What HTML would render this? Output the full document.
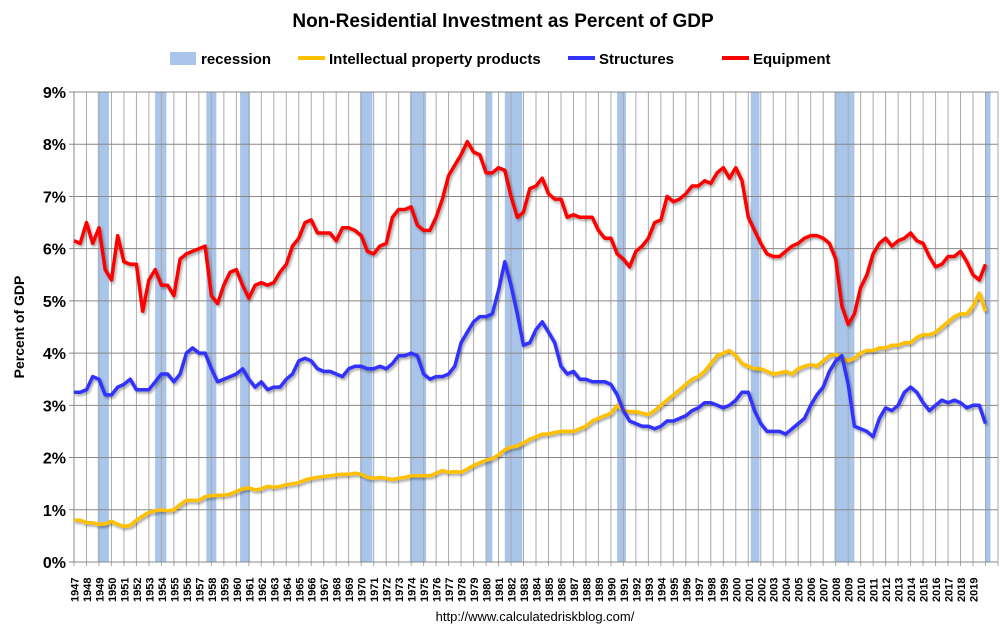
<!DOCTYPE html>
<html><head><meta charset="utf-8"><style>
body{margin:0;background:#fff;}
svg{font-family:"Liberation Sans",Arial,sans-serif;display:block}
</style></head><body>
<svg id="chart" width="1007" height="636" viewBox="0 0 1007 636">
<defs><filter id="sh" x="-5%" y="-5%" width="110%" height="110%"><feDropShadow dx="1.5" dy="2" stdDeviation="1.2" flood-color="#000" flood-opacity="0.35"/></filter></defs>
<text x="503" y="27" text-anchor="middle" font-size="19" font-weight="bold" fill="#000">Non-Residential Investment as Percent of GDP</text>
<g font-size="15" font-weight="bold">
<g><rect x="170" y="52" width="26" height="13" fill="#a9c5ea"/><text x="201" y="64">recession</text></g>
<g><line x1="298" y1="58" x2="325" y2="58" stroke="#ffc000" stroke-width="4"/><text x="329" y="64">Intellectual property products</text></g>
<g><line x1="568" y1="58" x2="595" y2="58" stroke="#3333ff" stroke-width="4"/><text x="599" y="64">Structures</text></g>
<g><line x1="722" y1="58" x2="749" y2="58" stroke="#ff0000" stroke-width="4"/><text x="753" y="64">Equipment</text></g>
</g>
<text transform="translate(24,327) rotate(-90)" text-anchor="middle" font-size="14" font-weight="bold">Percent of GDP</text>
<text x="535" y="621" text-anchor="middle" font-size="13">http://www.calculatedriskblog.com/</text>
<g id="plot"></g>
</svg>
<script>
const yTicks=[0,1,2,3,4,5,6,7,8,9];
const recStart=[1948.9,1953.5,1957.6,1960.3,1969.9,1973.9,1980.0,1981.5,1990.5,2001.2,2007.9,2020.0];
const recEnd=[1949.8,1954.4,1958.4,1961.1,1970.9,1975.2,1980.5,1982.9,1991.2,2001.9,2009.5,2020.4];
const startYear=1947, endYear=2021;
const equipment=[6.15,6.1,6.5,6.1,6.4,5.6,5.4,6.25,5.75,5.7,5.7,4.8,5.4,5.6,5.3,5.3,5.1,5.8,5.9,5.95,6.0,6.05,5.1,4.95,5.3,5.55,5.6,5.3,5.05,5.3,5.35,5.3,5.35,5.55,5.7,6.05,6.2,6.5,6.55,6.3,6.3,6.3,6.15,6.4,6.4,6.35,6.25,5.95,5.9,6.05,6.1,6.6,6.75,6.75,6.8,6.45,6.35,6.35,6.6,6.95,7.4,7.6,7.8,8.05,7.85,7.8,7.45,7.45,7.55,7.5,7.0,6.6,6.7,7.15,7.2,7.35,7.05,6.95,6.95,6.6,6.65,6.6,6.6,6.6,6.35,6.2,6.2,5.9,5.8,5.65,5.95,6.05,6.2,6.5,6.55,7.0,6.9,6.95,7.05,7.2,7.2,7.3,7.25,7.45,7.55,7.35,7.55,7.3,6.6,6.35,6.1,5.9,5.85,5.85,5.95,6.05,6.1,6.2,6.25,6.25,6.2,6.1,5.8,4.9,4.55,4.75,5.25,5.5,5.9,6.1,6.2,6.05,6.15,6.2,6.3,6.15,6.1,5.85,5.65,5.7,5.85,5.85,5.95,5.75,5.5,5.4,5.7];
const structures=[3.25,3.25,3.3,3.55,3.5,3.2,3.2,3.35,3.4,3.5,3.3,3.3,3.3,3.45,3.6,3.6,3.45,3.6,4.0,4.1,4.0,4.0,3.7,3.45,3.5,3.55,3.6,3.7,3.5,3.35,3.45,3.3,3.35,3.35,3.5,3.6,3.85,3.9,3.85,3.7,3.65,3.65,3.6,3.55,3.7,3.75,3.75,3.7,3.7,3.75,3.7,3.8,3.95,3.95,4.0,3.95,3.6,3.5,3.55,3.55,3.6,3.75,4.2,4.4,4.6,4.7,4.7,4.75,5.2,5.75,5.3,4.75,4.15,4.2,4.45,4.6,4.4,4.2,3.75,3.6,3.65,3.5,3.5,3.45,3.45,3.45,3.4,3.2,2.9,2.7,2.65,2.6,2.6,2.55,2.6,2.7,2.7,2.75,2.8,2.9,2.95,3.05,3.05,3.0,2.95,3.0,3.1,3.25,3.25,2.9,2.65,2.5,2.5,2.5,2.45,2.55,2.65,2.75,3.0,3.2,3.35,3.65,3.85,3.95,3.4,2.6,2.55,2.5,2.4,2.75,2.95,2.9,3.0,3.25,3.35,3.25,3.05,2.9,3.0,3.1,3.05,3.1,3.05,2.95,3.0,3.0,2.65];
const ipp=[0.8,0.8,0.75,0.75,0.72,0.73,0.78,0.72,0.68,0.7,0.8,0.88,0.95,0.98,1.0,0.98,1.0,1.1,1.18,1.18,1.18,1.25,1.27,1.28,1.28,1.3,1.35,1.4,1.42,1.38,1.4,1.45,1.43,1.45,1.48,1.5,1.52,1.57,1.6,1.62,1.64,1.65,1.67,1.68,1.68,1.7,1.68,1.62,1.6,1.62,1.6,1.58,1.6,1.62,1.65,1.65,1.65,1.65,1.7,1.75,1.72,1.73,1.72,1.78,1.85,1.9,1.95,1.98,2.05,2.15,2.2,2.22,2.28,2.35,2.4,2.45,2.45,2.48,2.5,2.5,2.5,2.55,2.6,2.7,2.75,2.8,2.85,3.0,2.9,2.88,2.88,2.85,2.82,2.9,3.0,3.1,3.2,3.3,3.4,3.5,3.55,3.65,3.8,3.95,4.0,4.05,3.95,3.8,3.75,3.7,3.7,3.65,3.6,3.62,3.65,3.6,3.7,3.75,3.78,3.75,3.85,3.95,3.98,3.9,3.85,3.9,4.0,4.05,4.05,4.1,4.1,4.15,4.15,4.2,4.2,4.3,4.35,4.35,4.4,4.5,4.6,4.7,4.75,4.75,4.9,5.15,4.8];

const L=74,R=998,T=92,B=562,NS="http://www.w3.org/2000/svg";
const x=t=>L+(t-startYear)/(endYear-startYear)*(R-L);
const y=v=>B-v/9*(B-T);
const g=document.getElementById('plot');
function mk(tag,a,parent){const e=document.createElementNS(NS,tag);for(const k in a)e.setAttribute(k,a[k]);(parent||g).appendChild(e);return e;}
for(let i=0;i<recStart.length;i++){
  const r=mk('rect',{x:x(recStart[i]),y:T,width:x(recEnd[i])-x(recStart[i]),height:B-T,fill:'#a9c5ea'});
  
  
}
for(let yr=startYear;yr<=endYear;yr++){
  const l=mk('line',{x1:x(yr),x2:x(yr),y1:T,y2:B+4,stroke:'#aaa','stroke-width':1});
  
  
  if(yr<endYear-1){
    const tx=mk('text',{transform:`translate(${x(yr)+4.5},${B+40}) rotate(-90)`,'font-size':11,'font-weight':'bold'});
    tx.textContent=yr;
    
    
  }
}
yTicks.forEach(v=>{
  const l=mk('line',{x1:L-5,x2:R,y1:y(v),y2:y(v),stroke:'#888','stroke-width':1});
  
  
  const t=mk('text',{x:L-8,y:y(v)+6,'text-anchor':'end','font-size':16,'font-weight':'bold'});
  t.textContent=v+'%';
  
  
});
const ax=mk('line',{x1:L,x2:L,y1:T,y2:B,stroke:'#888'});


function series(arr,color,name){
  const d=arr.map((v,i)=>(i?'L':'M')+x(startYear+i*0.5).toFixed(1)+','+y(v).toFixed(1)).join('');
  const p=mk('path',{d:d,fill:'none',stroke:color,'stroke-width':3.5,'stroke-linejoin':'round',filter:'url(#sh)'});
  
  
}
series(ipp,'#ffc000','ipp-line');
series(structures,'#3333ff','structures-line');
series(equipment,'#ff0000','equipment-line');
</script>
</body></html>
